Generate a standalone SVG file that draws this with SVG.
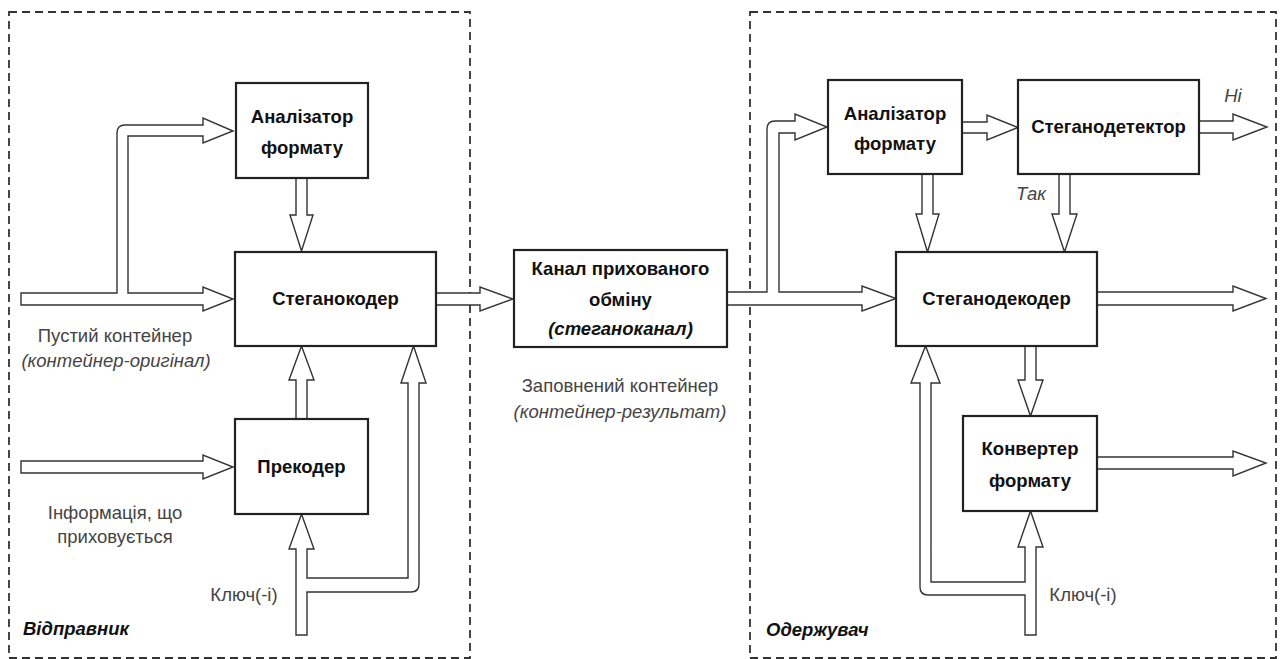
<svg xmlns="http://www.w3.org/2000/svg" width="1283" height="659" viewBox="0 0 1283 659">
<style>
.frame{fill:none;stroke:#333;stroke-width:1.8;stroke-dasharray:8 5}
.box{fill:#fff;stroke:#222;stroke-width:2.2}
.arr{fill:#fff;stroke:#333;stroke-width:1.4;stroke-linejoin:miter}
.bt{font-family:"Liberation Sans",Arial,sans-serif;font-size:18.5px;font-weight:bold;fill:#111;text-anchor:middle}
.lt{font-family:"Liberation Sans",Arial,sans-serif;font-size:18.5px;fill:#444;text-anchor:middle}
.it{font-style:italic}
.grp{font-family:"Liberation Sans",Arial,sans-serif;font-size:18.5px;font-weight:bold;font-style:italic;fill:#111}
</style>
<rect width="1283" height="659" fill="#fff"/>
<g id="frames">
<rect id="sender-frame" class="frame" x="9" y="12" width="461" height="646"/>
<rect id="receiver-frame" class="frame" x="750" y="12" width="526" height="646"/>
</g>
<g id="connectors">
<!-- Left: empty container split -->
<path class="arr" d="M21,293 H117 V133 Q117,125 125,125 H203 V118 L233,131 L203,143 V136 H128 V293 H203 V287 L233,299 L203,311 V305 H21 Z"/>
<!-- Left analyzer down -->
<path class="arr" d="M296,178 V215 H290 L301.5,251 L313,215 H307 V178 Z"/>
<!-- Stegocoder to channel -->
<path class="arr" d="M436,293 H480 V287 L513,299 L480,311 V305 H436 Z"/>
<!-- Precoder up -->
<path class="arr" d="M296,419 V380 H289 L301.5,346 L314,380 H307 V419 Z"/>
<!-- Info -->
<path class="arr" d="M21,461 H203 V455 L233,467 L203,479 V473 H21 Z"/>
<!-- Left key split -->
<path class="arr" d="M296,635 V549 H289 L301.5,514 L314,549 H307 V578 H408 V383 H401 L413.5,346 L426,383 H419 V584 Q419,592 411,592 H307 V635 Z"/>
<!-- Right: channel split -->
<path class="arr" d="M727,292 H767 V129 Q767,121 775,121 H795 V114 L827,127 L795,140 V133 H779 V292 H862 V286 L896,298.5 L862,311 V305 H727 Z"/>
<!-- Analyzer R to detector -->
<path class="arr" d="M962,122 H987 V115 L1018,127.5 L987,140 V133 H962 Z"/>
<!-- Analyzer R down -->
<path class="arr" d="M922,174 V214 H916 L927.5,252 L939,214 H933 V174 Z"/>
<!-- Detector down (Так) -->
<path class="arr" d="M1059,174 V214 H1052 L1064.5,252 L1077,214 H1070 V174 Z"/>
<!-- Detector right (Ні) -->
<path class="arr" d="M1199,121 H1233 V114 L1267,127 L1233,140 V133 H1199 Z"/>
<!-- Decoder right -->
<path class="arr" d="M1097,292 H1233 V286 L1266,298.5 L1233,311 V305 H1097 Z"/>
<!-- Decoder down to converter -->
<path class="arr" d="M1025,346 V380 H1018 L1030.5,416 L1043,380 H1036 V346 Z"/>
<!-- Converter right -->
<path class="arr" d="M1097,457 H1233 V451 L1266,463 L1233,476 V469 H1097 Z"/>
<!-- Right key split -->
<path class="arr" d="M1025,635 V595 H928 Q920,595 920,587 V383 H911 L925.5,346 L940,383 H931 V582 H1025 V547 H1018 L1030.5,511 L1043,547 H1036 V635 Z"/>
</g>
<g id="node-analyzer-left">
<rect class="box" x="236" y="83" width="132" height="95"/>
<text class="bt" x="302" y="123">Аналізатор</text>
<text class="bt" x="302" y="154">формату</text>
</g>
<g id="node-stegocoder">
<rect class="box" x="235" y="252" width="201" height="94"/>
<text class="bt" x="335.5" y="305">Стеганокодер</text>
</g>
<g id="node-precoder">
<rect class="box" x="235" y="419" width="133" height="95"/>
<text class="bt" x="301.5" y="473">Прекодер</text>
</g>
<g id="node-channel">
<rect class="box" x="514" y="250" width="213" height="97"/>
<text class="bt" x="620.5" y="275">Канал прихованого</text>
<text class="bt" x="620.5" y="306">обміну</text>
<text class="bt it" x="620.5" y="335">(стеганоканал)</text>
</g>
<g id="node-analyzer-right">
<rect class="box" x="828" y="80" width="134" height="94"/>
<text class="bt" x="895" y="120">Аналізатор</text>
<text class="bt" x="895" y="150">формату</text>
</g>
<g id="node-detector">
<rect class="box" x="1018" y="80" width="181" height="94"/>
<text class="bt" x="1108.5" y="133">Стеганодетектор</text>
</g>
<g id="node-decoder">
<rect class="box" x="896" y="252" width="201" height="94"/>
<text class="bt" x="996.5" y="305">Стеганодекодер</text>
</g>
<g id="node-converter">
<rect class="box" x="963" y="416" width="134" height="95"/>
<text class="bt" x="1030" y="455">Конвертер</text>
<text class="bt" x="1030" y="487">формату</text>
</g>
<g id="labels">
<text class="lt" x="115" y="342">Пустий контейнер</text>
<text class="lt it" x="116" y="367">(контейнер-оригінал)</text>
<text class="lt" x="115" y="519">Інформація, що</text>
<text class="lt" x="115" y="543">приховується</text>
<text class="lt" x="244" y="601">Ключ(-і)</text>
<text class="lt" x="620" y="392">Заповнений контейнер</text>
<text class="lt it" x="620" y="418">(контейнер-результат)</text>
<text class="lt it" x="1031" y="200">Так</text>
<text class="lt it" x="1233" y="102">Ні</text>
<text class="lt" x="1083" y="601">Ключ(-і)</text>
<text class="grp" x="23" y="635">Відправник</text>
<text class="grp" x="766" y="636">Одержувач</text>
</g>
</svg>
